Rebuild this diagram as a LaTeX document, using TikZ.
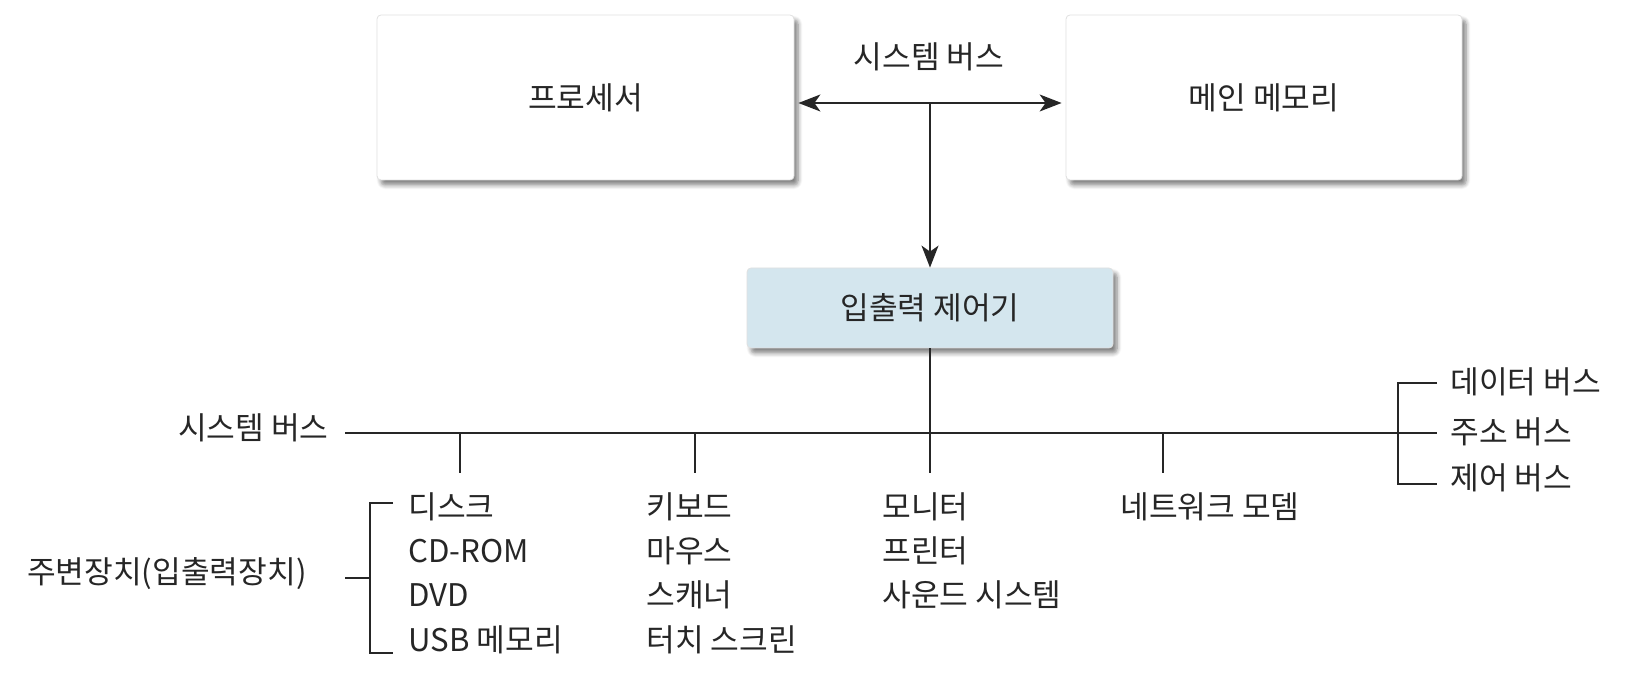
\documentclass[tikz,border=0pt]{standalone}
\usepackage{fontspec}
\setmainfont{Noto Sans CJK KR}
\usepackage{xcolor}
\usetikzlibrary{arrows.meta,shadows.blur}
\definecolor{iopaleblue}{HTML}{D4E6EE}
\definecolor{inkgray}{HTML}{262626}

\tikzset{
  unitbox/.style={draw=black!12, fill=white, rounded corners=2pt, inner sep=0pt,
    blur shadow={shadow xshift=2pt, shadow yshift=-2.5pt, shadow opacity=50, shadow blur steps=6}},
  iobox/.style={unitbox, fill=iopaleblue},
  txt/.style={inner sep=0pt, text height=0.8em, text depth=0.1em},
  devtext/.style={txt, anchor=west},
  busline/.style={draw=inkgray, line width=0.8pt}
}

\begin{document}
\begin{tikzpicture}[x=0.5pt, y=-0.5pt, text=inkgray, font=\fontsize{15.6}{18}\selectfont,
    >={Stealth[length=11pt,width=8.5pt,inset=3pt]}]
  \useasboundingbox (0,0) rectangle (1626,688);

  \node[unitbox, minimum width=208.5pt, minimum height=82.5pt] (proc) at (585.5,97.5) {프로세서};
  \node[unitbox, minimum width=198pt, minimum height=82.5pt] (mem) at (1264,97.5) {메인 메모리};
  \node[txt] (topbus) at (929,62) {시스템 버스};
  \node[iobox, minimum width=183pt, minimum height=40pt] (ioc) at (930,308) {입출력 제어기};

  \coordinate (hub) at (930,103);
  \draw[busline, <->, shorten <=2pt, shorten >=2pt] (proc.east |- hub) -- (mem.west |- hub);
  \draw[busline, ->] (hub) -- (ioc.north);


  \coordinate (busw) at (345,433);
  \coordinate (buse) at (1437,433);
  \node[txt, anchor=east] (sysbus) at (329,433) {시스템 버스};
  \draw[busline] (busw) -- (buse);
  \coordinate (tapc) at (930,473);
  \draw[busline] (ioc.south) -- (tapc);
  \foreach \x/\n in {460/tapa, 695/tapb, 1163/tapd} {
    \coordinate (\n) at (\x,473);
    \draw[busline] (\n |- busw) -- (\n);
  }


  \node[devtext] (disk) at (408,512) {디스크};
  \node[devtext] (cdrom) at (408,556) {CD-ROM};
  \node[devtext] (dvd) at (408,600) {DVD};
  \node[devtext] (usb) at (408,645) {USB 메모리};

  \node[devtext] (keyb) at (646,512) {키보드};
  \node[devtext] (mouse) at (646,556) {마우스};
  \node[devtext] (scan) at (646,600) {스캐너};
  \node[devtext] (touch) at (646,645) {터치 스크린};

  \node[devtext] (monitor) at (882,512) {모니터};
  \node[devtext] (printer) at (882,556) {프린터};
  \node[devtext] (sound) at (882,600) {사운드 시스템};

  \node[devtext] (modem) at (1120,512) {네트워크 모뎀};


  \coordinate (lbtop) at (393,503);
  \coordinate (lbbot) at (393,653);
  \coordinate (lbmid) at (345,578);
  \node[txt, anchor=east] (periph) at (307,577) {주변장치(입출력장치)};
  \draw[busline] (lbtop) -- ++(-23,0) |- (lbbot);
  \draw[busline] (lbmid) -- ++(25,0);


  \coordinate (rbtop) at (1437,383);
  \coordinate (rbbot) at (1437,484);
  \draw[busline] (rbtop) -- ++(-39,0) |- (rbbot);
  \node[devtext] (databus) at (1450,387) {데이터 버스};
  \node[devtext] (addrbus) at (1450,437) {주소 버스};
  \node[devtext] (ctrlbus) at (1450,483) {제어 버스};
\end{tikzpicture}
\end{document}
